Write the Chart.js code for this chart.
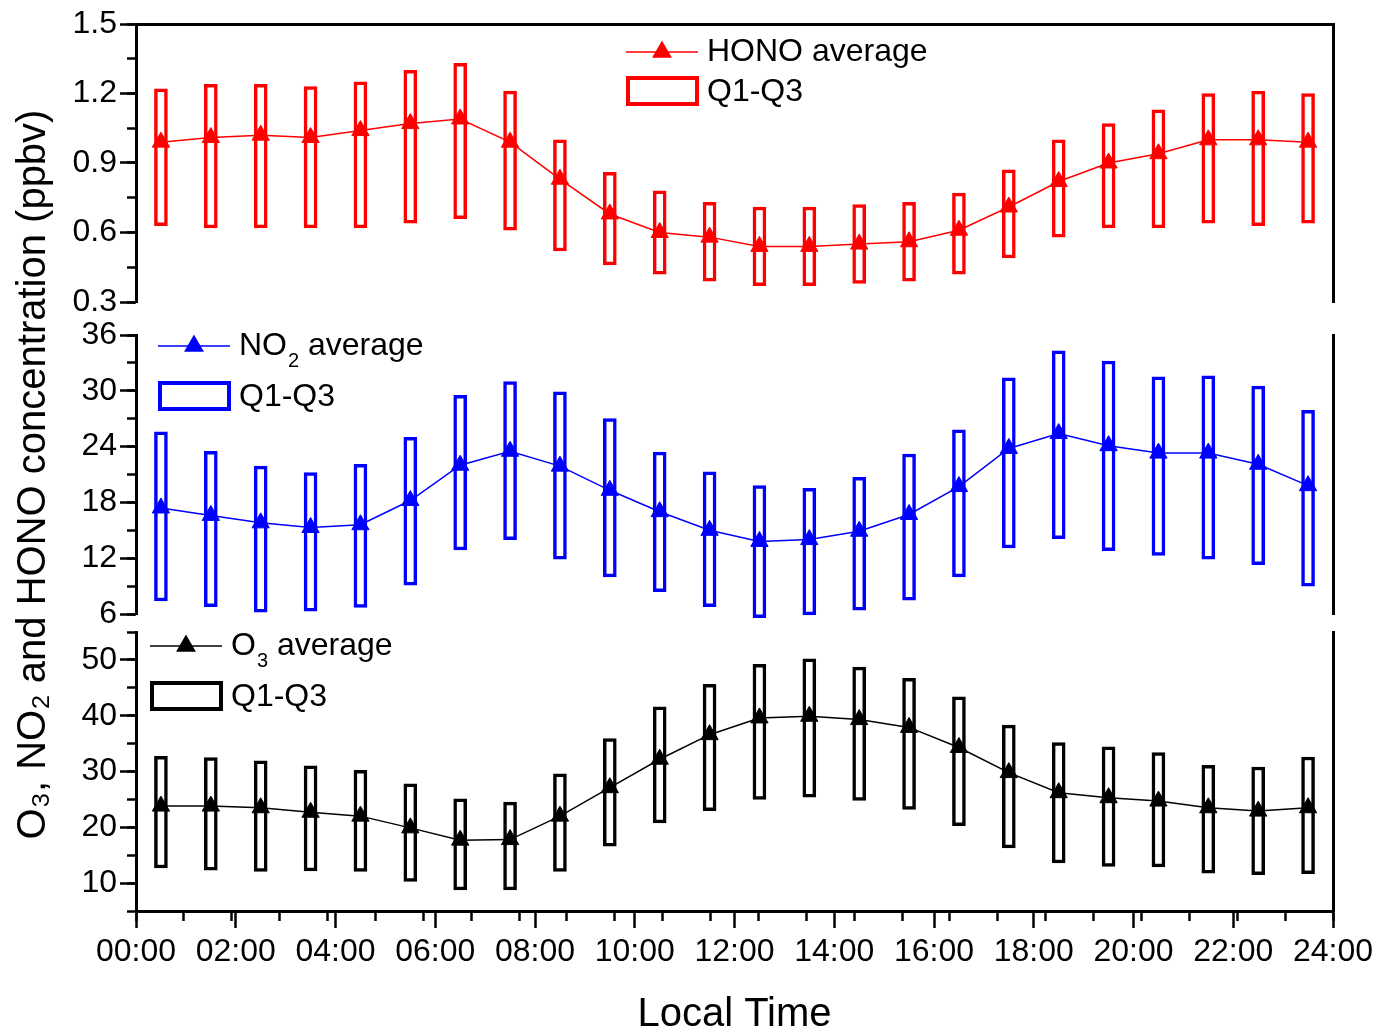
<!DOCTYPE html>
<html>
<head>
<meta charset="utf-8">
<script src="https://cdn.jsdelivr.net/npm/chart.js@4.4.1/dist/chart.umd.min.js"></script>
<style>
    html, body { margin: 0; padding: 0; background: #fff; }
    #wrap { position: relative; width: 1383px; height: 1031px; }
    #wrap canvas { position: absolute; left: 0; top: 0; }
</style>
</head>
<body>
<div id="wrap">
    <canvas id="hono" width="1383" height="1031"></canvas>
    <canvas id="no2" width="1383" height="1031"></canvas>
    <canvas id="o3" width="1383" height="1031"></canvas>
</div>
<script>
// hour of each box (middle of the hour)
const hours = [0.5, 1.5, 2.5, 3.5, 4.5, 5.5, 6.5, 7.5, 8.5, 9.5, 10.5, 11.5,
    12.5, 13.5, 14.5, 15.5, 16.5, 17.5, 18.5, 19.5, 20.5, 21.5, 22.5, 23.5];
const timeTicks = [0, 2, 4, 6, 8, 10, 12, 14, 16, 18, 20, 22, 24];
const timeLabels = ['00:00', '02:00', '04:00', '06:00', '08:00', '10:00', '12:00',
    '14:00', '16:00', '18:00', '20:00', '22:00', '24:00'];

// HONO (ppbv)
const honoAvg = [0.99, 1.01, 1.02, 1.01, 1.04, 1.07, 1.09, 0.99, 0.83, 0.68, 0.60, 0.58,
    0.54, 0.54, 0.55, 0.56, 0.61, 0.71, 0.82, 0.90, 0.94, 1.00, 1.00, 0.99];
const honoQ1 = [0.63, 0.62, 0.62, 0.62, 0.62, 0.64, 0.66, 0.61, 0.52, 0.46, 0.42, 0.39,
    0.37, 0.37, 0.38, 0.39, 0.42, 0.49, 0.58, 0.62, 0.62, 0.64, 0.63, 0.64];
const honoQ3 = [1.22, 1.24, 1.24, 1.23, 1.25, 1.30, 1.33, 1.21, 1.00, 0.86, 0.78, 0.73,
    0.71, 0.71, 0.72, 0.73, 0.77, 0.87, 1.00, 1.07, 1.13, 1.20, 1.21, 1.20];
const honoTicks = [0.3, 0.6, 0.9, 1.2, 1.5];

// NO2 (ppbv)
const no2Avg = [17.4, 16.6, 15.8, 15.3, 15.6, 18.2, 22.0, 23.5, 21.9, 19.3, 17.0, 15.0,
    13.8, 14.0, 14.9, 16.7, 19.7, 23.8, 25.4, 24.1, 23.3, 23.3, 22.1, 19.8];
const no2Q1 = [7.4, 6.8, 6.2, 6.3, 6.7, 9.1, 12.9, 14.0, 11.9, 10.0, 8.4, 6.8,
    5.6, 5.9, 6.4, 7.5, 10.0, 13.1, 14.1, 12.8, 12.3, 11.9, 11.3, 9.0];
const no2Q3 = [25.6, 23.5, 21.9, 21.2, 22.1, 25.0, 29.5, 31.0, 29.9, 27.0, 23.4, 21.3,
    19.8, 19.5, 20.7, 23.2, 25.8, 31.4, 34.3, 33.2, 31.5, 31.6, 30.5, 27.9];
const no2Ticks = [6, 12, 18, 24, 30, 36];

// O3 (ppbv)
const o3Avg = [23.8, 23.8, 23.5, 22.7, 22.0, 19.9, 17.7, 17.8, 22.0, 27.1, 32.2, 36.6,
    39.6, 39.9, 39.3, 37.9, 34.3, 29.8, 26.2, 25.3, 24.7, 23.5, 22.9, 23.5];
const o3Q1 = [12.7, 12.3, 12.1, 12.2, 12.1, 10.3, 8.8, 8.8, 12.1, 16.6, 20.8, 23.0,
    25.0, 25.4, 24.8, 23.2, 20.3, 16.3, 13.6, 13.0, 12.9, 11.8, 11.5, 11.7];
const o3Q3 = [32.7, 32.5, 31.9, 31.0, 30.2, 27.8, 25.1, 24.5, 29.6, 35.9, 41.6, 45.6,
    49.2, 50.2, 48.7, 46.7, 43.4, 38.3, 35.2, 34.4, 33.4, 31.1, 30.8, 32.6];
const o3Ticks = [10, 20, 30, 40, 50];

const FONT = 'Arial, "Liberation Sans", sans-serif';

// legend drawn inside each panel
const panelLegend = {
    id: 'panelLegend',
    afterDraw(chart, args, o) {
        const ctx = chart.ctx;
        ctx.save();
        ctx.strokeStyle = o.color;
        ctx.fillStyle = o.color;
        ctx.lineWidth = 1.5;
        ctx.beginPath();
        ctx.moveTo(o.x, o.y);
        ctx.lineTo(o.x + 72, o.y);
        ctx.stroke();
        Chart.helpers.drawPoint(ctx, { pointStyle: 'triangle', radius: 10, borderWidth: 1 }, o.x + 36, o.y);
        ctx.lineWidth = 4;
        ctx.strokeRect(o.x + 2, o.ry - 13, 69, 26);

        ctx.fillStyle = '#000';
        ctx.textBaseline = 'middle';
        ctx.textAlign = 'left';
        let tx = o.x + 81;
        ctx.font = '32px ' + FONT;
        ctx.fillText(o.name, tx, o.y);
        tx += ctx.measureText(o.name).width;
        if (o.sub) {
            ctx.font = '20px ' + FONT;
            ctx.fillText(o.sub, tx + 1, o.y + 15);
            tx += ctx.measureText(o.sub).width + 1;
            ctx.font = '32px ' + FONT;
        }
        ctx.fillText(' average', tx, o.y);
        ctx.fillText('Q1-Q3', o.x + 81, o.ry + 1);
        ctx.restore();
    }
};

function makePanel(id, p) {
    const avgPts = hours.map((h, i) => ({ x: h, y: p.avg[i] }));
    const boxPts = hours.map((h, i) => ({ x: h, y: [p.q1[i], p.q3[i]] }));
    const scales = {
        x: {
            type: 'linear', min: 0, max: 24, offset: false,
            display: false,
            grid: { offset: false }
        },
        yMajor: {
            type: 'linear', position: 'left', weight: 1,
            min: p.min, max: p.max,
            afterFit: s => { s.width = 136; },
            afterBuildTicks: s => { s.ticks = p.ticks.map(v => ({ value: v })); },
            grid: { drawOnChartArea: false, tickLength: 16, tickWidth: 2.5, tickColor: '#000' },
            border: { display: true, width: 3, color: '#000' },
            ticks: {
                color: '#000', padding: 3, font: { family: FONT, size: 32 },
                callback: v => p.fmt(v)
            },
            title: p.yTitle ? {
                display: true, text: p.yTitle, color: '#000',
                font: { family: FONT, size: 40, lineHeight: 1 },
                padding: { top: 14, bottom: 0 }
            } : { display: false }
        },
        yMinor: {
            type: 'linear', position: 'left', weight: 0,
            min: p.min, max: p.max,
            afterFit: s => { s.width = 0; },
            ticks: { display: false, stepSize: p.minorStep },
            grid: { drawOnChartArea: false, tickLength: 9, tickWidth: 2.5, tickColor: '#000' },
            border: { display: false }
        },
        yRight: {
            type: 'linear', position: 'right',
            min: p.min, max: p.max,
            afterFit: s => { s.width = 0; },
            ticks: { display: false },
            grid: { display: false },
            border: { display: true, width: 3, color: '#000' }
        }
    };
    if (p.topBorder) {
        scales.xTop = {
            type: 'linear', position: 'top', min: 0, max: 24,
            afterFit: s => { s.height = 0; },
            ticks: { display: false },
            grid: { display: false },
            border: { display: true, width: 3, color: '#000' }
        };
    }
    if (p.showX) {
        scales.x = {
            type: 'linear', position: 'bottom', weight: 1,
            min: 0, max: 24, offset: false,
            afterFit: s => { s.height = 120; },
            afterBuildTicks: s => { s.ticks = timeTicks.map(v => ({ value: v })); },
            grid: { offset: false, drawOnChartArea: false, tickLength: 17, tickWidth: 2.5, tickColor: '#000' },
            border: { display: true, width: 3, color: '#000' },
            ticks: {
                color: '#000', padding: 5, autoSkip: false, maxRotation: 0,
                font: { family: FONT, size: 32 },
                callback: (v, i) => timeLabels[i]
            },
            title: {
                display: true, text: 'Local Time', color: '#000',
                font: { family: FONT, size: 40, lineHeight: 1 },
                padding: { top: 0, bottom: -4 }
            }
        };
        scales.xMinor = {
            type: 'linear', position: 'bottom', weight: 0,
            min: 0, max: 24,
            afterFit: s => { s.height = 0; },
            ticks: { display: false, stepSize: 1 },
            grid: { drawOnChartArea: false, tickLength: 10, tickWidth: 2.5, tickColor: '#000' },
            border: { display: false }
        };
    }
    return new Chart(document.getElementById(id), {
        type: 'bar',
        data: {
            datasets: [
                {
                    type: 'line', data: avgPts, xAxisID: 'x', yAxisID: 'yMajor',
                    borderColor: p.color, borderWidth: 1.5, pointRadius: 0,
                    order: 3, clip: false
                },
                {
                    type: 'bar', data: boxPts, xAxisID: 'x', yAxisID: 'yMajor',
                    borderColor: p.color, backgroundColor: '#fff', borderWidth: 3.5,
                    borderSkipped: false, barThickness: 13, order: 2, clip: false
                },
                {
                    type: 'line', data: avgPts, xAxisID: 'x', yAxisID: 'yMajor',
                    showLine: false, pointStyle: 'triangle', pointRadius: 10,
                    pointBackgroundColor: p.color, pointBorderColor: p.color, pointBorderWidth: 1,
                    order: 1, clip: false
                }
            ]
        },
        options: {
            responsive: false,
            devicePixelRatio: 1,
            animation: false,
            layout: { padding: { left: 0, right: 50, top: p.top, bottom: p.bottom } },
            plugins: {
                legend: { display: false },
                tooltip: { enabled: false },
                panelLegend: p.legend
            },
            scales
        },
        plugins: [panelLegend]
    });
}

makePanel('hono', {
    avg: honoAvg, q1: honoQ1, q3: honoQ3, color: '#ff0000',
    min: 0.3, max: 1.5, ticks: honoTicks, minorStep: 0.15,
    fmt: v => v.toFixed(1),
    top: 24, bottom: 1031 - 302, topBorder: true,
    legend: { x: 626, y: 52, ry: 91, color: '#ff0000', name: 'HONO' }
});

makePanel('no2', {
    avg: no2Avg, q1: no2Q1, q3: no2Q3, color: '#0000ff',
    min: 6, max: 36, ticks: no2Ticks, minorStep: 3,
    fmt: v => String(v),
    top: 335, bottom: 1031 - 614,
    yTitle: 'O\u2083, NO\u2082 and HONO concentration (ppbv)',
    legend: { x: 158, y: 346, ry: 396, color: '#0000ff', name: 'NO', sub: '2' }
});

makePanel('o3', {
    avg: o3Avg, q1: o3Q1, q3: o3Q3, color: '#000000',
    min: 5, max: 55, ticks: o3Ticks, minorStep: 5,
    fmt: v => String(v),
    top: 632, bottom: 0, showX: true,
    legend: { x: 150, y: 646, ry: 696, color: '#000000', name: 'O', sub: '3' }
});
</script>
</body>
</html>
